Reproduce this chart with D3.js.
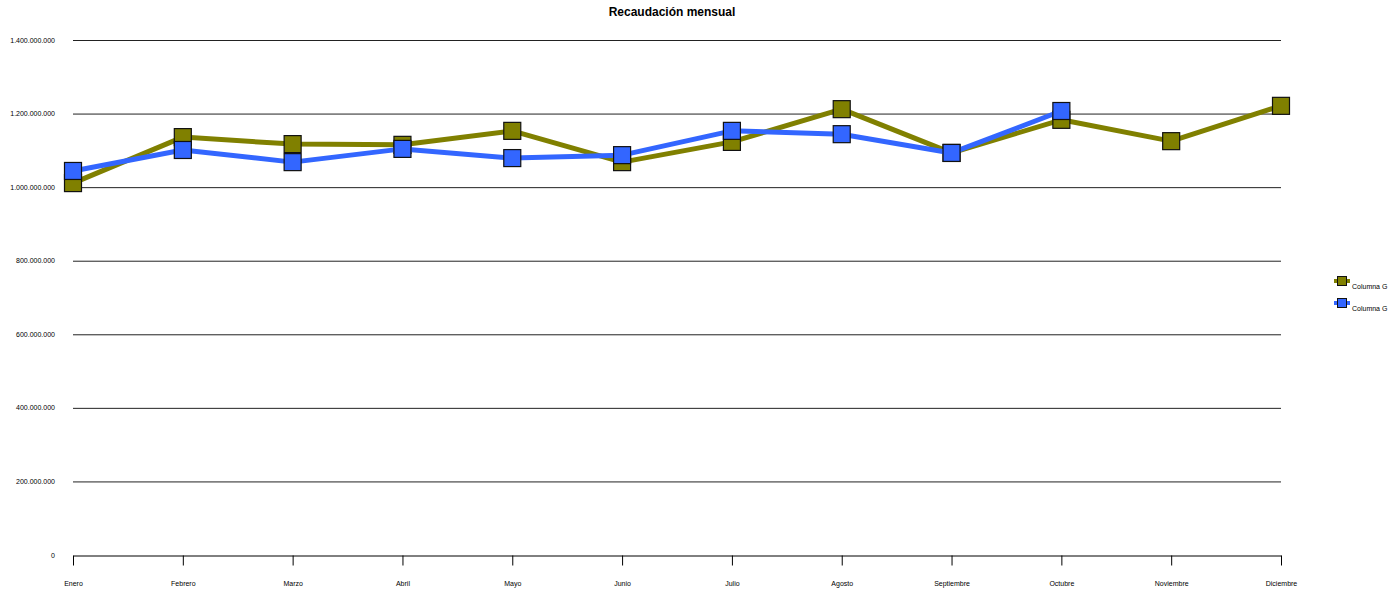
<!DOCTYPE html>
<html><head><meta charset="utf-8">
<script src="https://cdn.jsdelivr.net/npm/d3@7"></script>
<style>body{margin:0;background:#fff}svg{display:block}text{font-family:"Liberation Sans",Arial,sans-serif}</style>
</head><body>
<svg id="c" width="1394" height="592"></svg>
<script>
const months = ["Enero","Febrero","Marzo","Abril","Mayo","Junio","Julio","Agosto","Septiembre","Octubre","Noviembre","Diciembre"];
const seriesOlive = [1011e6,1136e6,1117e6,1115e6,1153e6,1068e6,1123e6,1212e6,1093e6,1183e6,1125e6,1221e6];
const seriesBlue = [1044e6,1101e6,1068e6,1104e6,1079e6,1087e6,1153e6,1144e6,1093e6,1207e6,null,null];
const yTicks = [0,200e6,400e6,600e6,800e6,1000e6,1200e6,1400e6];
const seriesNames = ["Columna G","Columna G"];
const colors = ["#808000","#3366ff"];

const svg = d3.select("#c");
const x = d3.scalePoint().domain(months).range([73,1281]);
const y = d3.scaleLinear().domain([0,1400e6]).range([555,40]);
const fmt = v => v===0 ? "0" : d3.format(",")(v).replace(/,/g,".");

svg.append("text").attr("x",672).attr("y",16).attr("text-anchor","middle")
  .attr("font-size",12).attr("font-weight","bold").text("Recaudación mensual");

// grid
const g = svg.append("g");
g.selectAll("line.grid").data(yTicks.filter(d=>d>0)).join("line")
  .attr("x1",73).attr("x2",1281).attr("y1",d=>y(d)+0.5).attr("y2",d=>y(d)+0.5)
  .attr("stroke","#222").attr("stroke-width",1);
g.selectAll("text.yl").data(yTicks).join("text")
  .attr("x",55).attr("y",d=>y(d)+2.5).attr("text-anchor","end").attr("font-size",7).attr("fill","#000").text(fmt);

// x axis
const xa = svg.append("g").attr("transform","translate(0,555.5)")
  .call(d3.axisBottom(x).tickSize(10).tickSizeOuter(0).tickPadding(16));
xa.select(".domain").attr("stroke","#000");
xa.selectAll(".tick line").attr("stroke","#000");
xa.selectAll("text").attr("font-size",7).attr("font-family","Liberation Sans, Arial, sans-serif");

const data = [seriesOlive, seriesBlue];
data.forEach((s,i)=>{
  const pts = months.map((m,j)=>({m, v:s[j]})).filter(d=>d.v!=null);
  svg.append("path").datum(pts)
    .attr("d", d3.line().x(d=>x(d.m)).y(d=>y(d.v)))
    .attr("fill","none").attr("stroke",colors[i]).attr("stroke-width",5).attr("stroke-linejoin","round");
  svg.selectAll(null).data(pts).join("rect")
    .attr("x",d=>x(d.m)-8.5).attr("y",d=>y(d.v)-8.5).attr("width",17).attr("height",17)
    .attr("fill",colors[i]).attr("stroke","#111").attr("stroke-width",1.2);
});

// legend
const lg = svg.append("g");
seriesNames.forEach((n,i)=>{
  const yy = 281 + i*22;
  lg.append("line").attr("x1",1334).attr("x2",1350).attr("y1",yy).attr("y2",yy).attr("stroke",colors[i]).attr("stroke-width",4);
  lg.append("rect").attr("x",1337.5).attr("y",yy-4.5).attr("width",9).attr("height",9).attr("fill",colors[i]).attr("stroke","#111").attr("stroke-width",1);
  lg.append("text").attr("x",1352).attr("y",yy+7.5).attr("font-size",7).text(n);
});
</script>
</body></html>
